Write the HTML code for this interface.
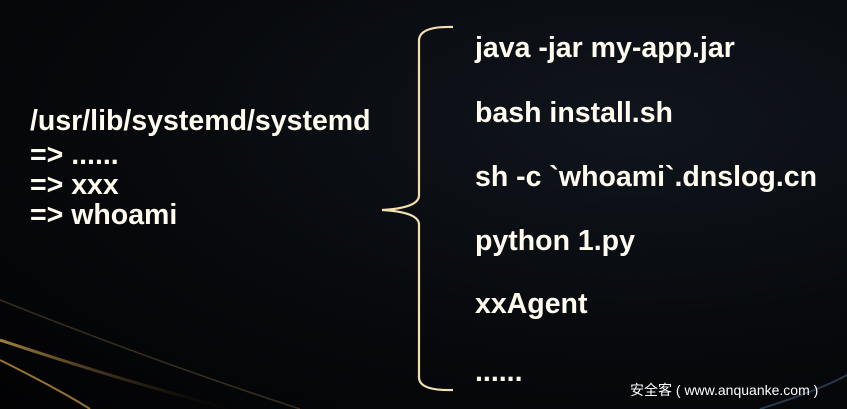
<!DOCTYPE html>
<html><head><meta charset="utf-8"><style>
html,body{margin:0;padding:0}
body{width:847px;height:409px;overflow:hidden;position:relative;background:radial-gradient(ellipse at 75% 30%,#10151d 0%,#07090c 55%,#020203 100%);font-family:"Liberation Sans",sans-serif;color:#fff;font-weight:bold}
.t{position:absolute;white-space:nowrap;font-size:28.5px;line-height:32px;color:#fffbef}
.w{position:absolute;left:630px;top:380px;font-size:14px;font-weight:normal;font-family:"Liberation Sans","Noto Sans CJK SC",sans-serif;color:#fff}
</style></head><body>
<svg width="847" height="409" style="position:absolute;left:0;top:0">
<defs><linearGradient id="g" x1="0" y1="0" x2="1" y2="0"><stop offset="0" stop-color="#c9a050"/><stop offset="1" stop-color="#3a2a10" stop-opacity="0"/></linearGradient></defs>
<path d="M0 340 Q120 380 230 409" stroke="url(#g)" stroke-width="3" fill="none" opacity="0.8"/>
<path d="M0 300 Q150 360 300 409" stroke="#5a4a30" stroke-width="1.5" fill="none" opacity="0.6"/>
<path d="M0 360 Q60 390 90 409" stroke="#d4a24a" stroke-width="2" fill="none" opacity="0.7"/>
<path d="M760 409 Q820 390 847 375" stroke="#4a6a8a" stroke-width="2" fill="none" opacity="0.5"/>
<path d="M453 27 Q420 26 419 40 L419 196 Q418 208 382 210 Q418 212 419 224 L419 378 Q420 391 453 390" stroke="#f3dfb0" stroke-width="2.2" fill="none"/>
</svg>
<div class="t" style="left:30px;top:105px">/usr/lib/systemd/systemd</div>
<div class="t" style="left:30px;top:139px">=&gt; ......</div>
<div class="t" style="left:30px;top:169px">=&gt; xxx</div>
<div class="t" style="left:30px;top:199px">=&gt; whoami</div>
<div class="t" style="left:475px;top:32px">java -jar my-app.jar</div>
<div class="t" style="left:475px;top:97px">bash install.sh</div>
<div class="t" style="left:475px;top:161px">sh -c `whoami`.dnslog.cn</div>
<div class="t" style="left:475px;top:225px">python 1.py</div>
<div class="t" style="left:475px;top:288px">xxAgent</div>
<div class="t" style="left:475px;top:356px">......</div>
<div class="w">安全客 ( www.anquanke.com )</div>
</body></html>
